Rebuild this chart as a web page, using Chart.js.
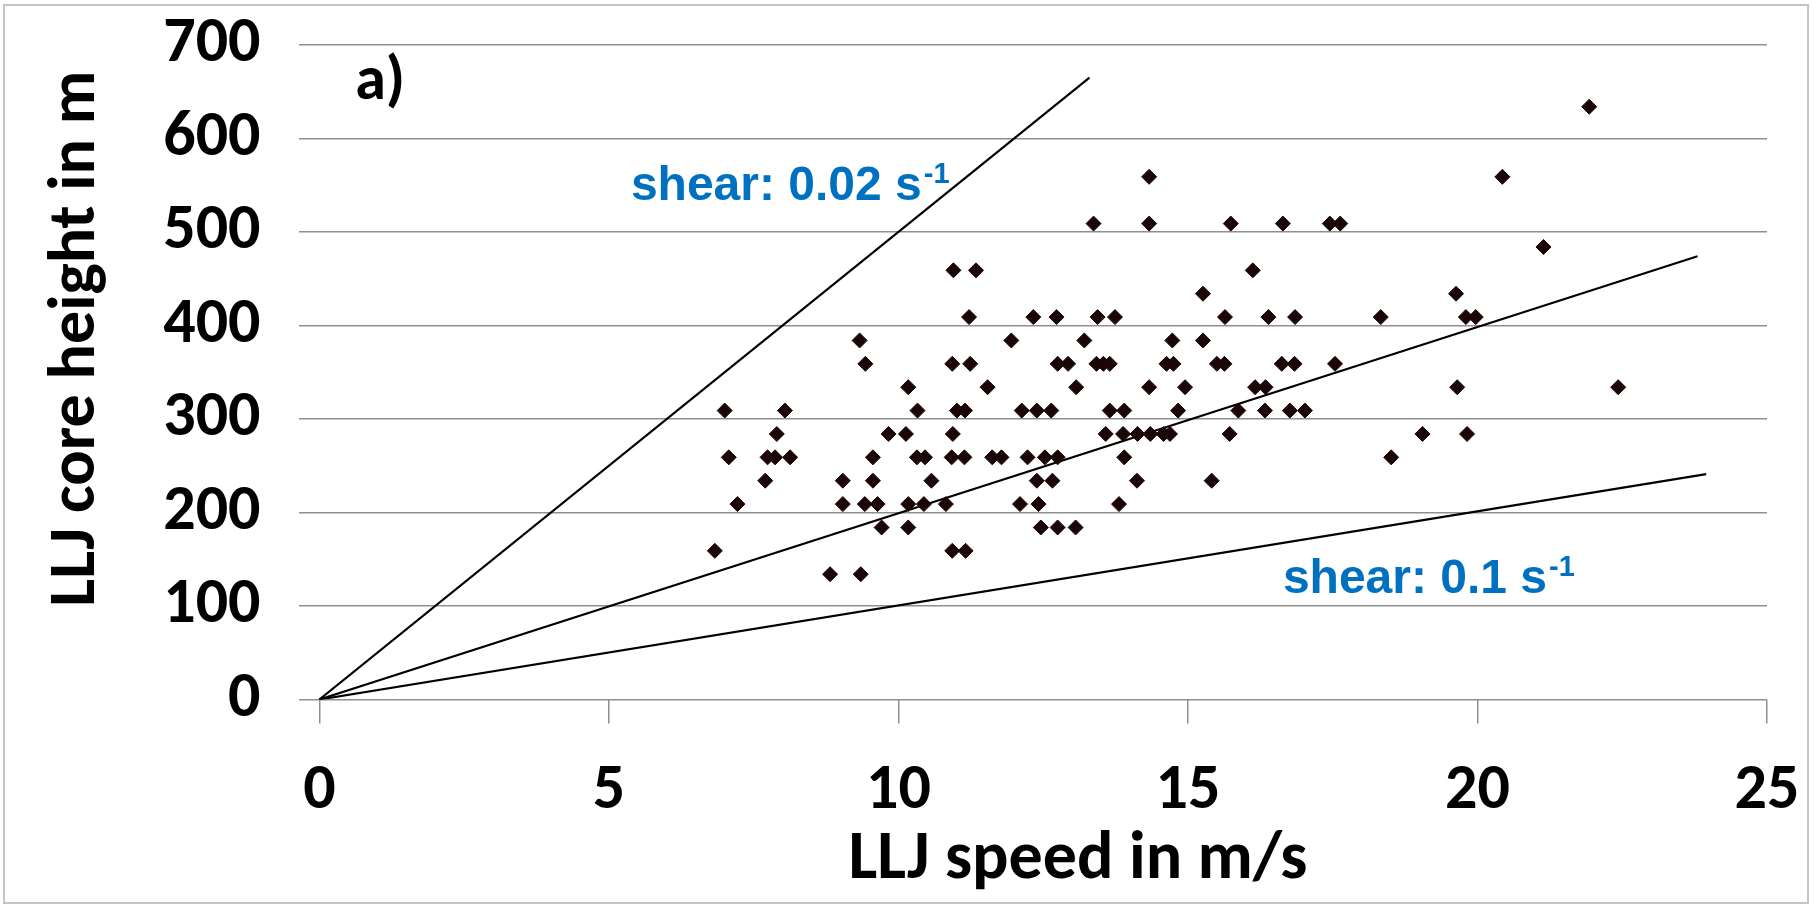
<!DOCTYPE html>
<html>
<head>
<meta charset="utf-8">
<script src="https://cdn.jsdelivr.net/npm/chart.js@4"></script>
<style>
  html, body { margin: 0; padding: 0; background: #fff; }
</style>
</head>
<body>
<canvas id="lljChart" width="1814" height="908"></canvas>
<script>
// LLJ events: speed (m/s) and core height (m)
const lljSpeed = [
  21.93,
  14.33, 20.43,
  13.37, 14.33, 15.74, 16.64, 17.45, 17.63,
  21.14,
  10.95, 11.34, 16.12,
  15.26, 19.63,
  11.22, 12.33, 12.73, 13.44, 13.74, 15.64, 16.39, 16.85, 18.33, 19.80, 19.97,
  9.33, 11.95, 13.21, 14.73, 15.26,
  9.43, 10.93, 11.24, 12.75, 12.93, 13.42, 13.54, 13.65, 14.63, 14.75, 15.50, 15.63, 16.62, 16.84, 17.54,
  10.17, 11.54, 13.07, 14.33, 14.95, 16.16, 16.34, 19.65, 22.43,
  7.00, 8.04, 10.33, 11.01, 11.15, 12.13, 12.39, 12.64, 13.65, 13.90, 14.83, 15.87, 16.33, 16.76, 17.02,
  7.90, 9.83, 10.13, 10.94, 13.58, 13.88, 14.13, 14.35, 14.58, 14.69, 15.72, 19.05, 19.82,
  7.07, 7.74, 7.87, 8.13, 9.56, 10.32, 10.46, 10.92, 11.14, 11.62, 11.78, 12.23, 12.53, 12.75, 13.90, 18.51,
  7.70, 9.04, 9.56, 10.57, 12.39, 12.66, 14.12, 15.41,
  7.22, 9.04, 9.42, 9.64, 10.17, 10.44, 10.82, 12.10, 12.42, 13.81,
  9.71, 10.17, 12.46, 12.75, 13.06,
  6.83, 10.93, 11.16,
  8.82, 9.35
];
const lljHeight = [
  634,
  559, 559,
  509, 509, 509, 509, 509, 509,
  484,
  459, 459, 459,
  434, 434,
  409, 409, 409, 409, 409, 409, 409, 409, 409, 409, 409,
  384, 384, 384, 384, 384,
  359, 359, 359, 359, 359, 359, 359, 359, 359, 359, 359, 359, 359, 359, 359,
  334, 334, 334, 334, 334, 334, 334, 334, 334,
  309, 309, 309, 309, 309, 309, 309, 309, 309, 309, 309, 309, 309, 309, 309,
  284, 284, 284, 284, 284, 284, 284, 284, 284, 284, 284, 284, 284,
  259, 259, 259, 259, 259, 259, 259, 259, 259, 259, 259, 259, 259, 259, 259, 259,
  234, 234, 234, 234, 234, 234, 234, 234,
  209, 209, 209, 209, 209, 209, 209, 209, 209, 209,
  184, 184, 184, 184, 184,
  159, 159, 159,
  134, 134
];

// shear reference lines from the origin (start, end)
const shear002X = [0, 13.3];
const shear002Y = [0, 665];
const shear005X = [0, 23.8];
const shear005Y = [0, 474];
const shear01X = [0, 23.95];
const shear01Y = [0, 241];

const xTicks = [0, 5, 10, 15, 20, 25];
const yTicks = [0, 100, 200, 300, 400, 500, 600, 700];

const CAL = "Carlito, 'Liberation Sans', sans-serif";
const BLUE = '#0070C0';

function toPoints(xs, ys) {
  return xs.map((x, i) => ({ x: x, y: ys[i] }));
}

function lineSet(xs, ys) {
  return {
    data: toPoints(xs, ys),
    showLine: true,
    borderColor: '#000',
    borderWidth: 2.2,
    pointRadius: 0,
    fill: false,
  };
}

// text inside the figure: "a)", the shear notes, both axis titles, and the outer frame
const extras = {
  id: 'extras',
  beforeDraw(chart) {
    const c = chart.ctx;
    c.save();
    c.fillStyle = '#fff';
    c.fillRect(0, 0, chart.width, chart.height);
    c.strokeStyle = '#c4c4c4';
    c.lineWidth = 2;
    c.strokeRect(4, 5, 1804, 898);
    c.restore();
  },
  afterDraw(chart) {
    const c = chart.ctx;
    const xs = chart.scales.x, ys = chart.scales.y;
    c.save();
    c.textBaseline = 'alphabetic';
    c.textAlign = 'left';

    c.fillStyle = '#000';
    c.font = 'bold 62px ' + CAL;
    c.fillText('a)', xs.getPixelForValue(0.62), ys.getPixelForValue(642));

    const note = (txt, xv, yv) => {
      const px = xs.getPixelForValue(xv), py = ys.getPixelForValue(yv);
      c.fillStyle = BLUE;
      c.font = "bold 48px 'Liberation Sans', Arial, sans-serif";
      c.fillText(txt, px, py);
      const w = c.measureText(txt).width;
      c.font = "bold 29px 'Liberation Sans', Arial, sans-serif";
      c.fillText('-1', px + w + 2, py - 17);
    };
    note('shear: 0.02 s', 5.38, 534);
    note('shear: 0.1 s', 16.64, 114);

    // x axis title (sits a bit right of the plot centre in the original)
    c.fillStyle = '#000';
    c.textAlign = 'center';
    c.font = 'bold 68px ' + CAL;
    c.fillText('LLJ speed in m/s', xs.getPixelForValue(13.1), 878);

    // y axis title, rotated
    c.font = 'bold 66px ' + CAL;
    c.translate(94, ys.getPixelForValue(386));
    c.rotate(-Math.PI / 2);
    c.fillText('LLJ core height in m', 0, 0);
    c.restore();
  }
};

const ctx = document.getElementById('lljChart').getContext('2d');
const lljChart = new Chart(ctx, {
  type: 'scatter',
  data: {
    datasets: [
      {
        data: toPoints(lljSpeed, lljHeight),
        pointStyle: 'rectRot',
        pointRadius: 7.5,
        backgroundColor: '#1a0606',
        borderColor: '#1a0606',
        borderWidth: 1,
      },
      lineSet(shear002X, shear002Y),
      lineSet(shear005X, shear005Y),
      lineSet(shear01X, shear01Y),
    ],
  },
  options: {
    responsive: false,
    animation: false,
    devicePixelRatio: 1,
    layout: { padding: { top: 45, right: 47, left: 0, bottom: 0 } },
    plugins: {
      legend: { display: false },
      tooltip: { enabled: false },
    },
    scales: {
      x: {
        type: 'linear',
        min: -0.36,
        max: 25,
        afterBuildTicks: (scale) => { scale.ticks = xTicks.map((v) => ({ value: v })); },
        afterFit: (scale) => {
          scale.height = 208.5;
          scale.paddingLeft = 0;
          scale.paddingRight = 0;
        },
        border: { display: false },
        grid: {
          drawOnChartArea: false,
          drawTicks: true,
          tickLength: 24,
          color: '#8f8f8f',
          lineWidth: 1.5,
        },
        ticks: {
          autoSkip: false,
          maxRotation: 0,
          padding: 30,
          color: '#000',
          font: { family: CAL, size: 64, weight: 'bold' },
        },
      },
      y: {
        min: 0,
        max: 700,
        afterBuildTicks: (scale) => { scale.ticks = yTicks.map((v) => ({ value: v })); },
        afterFit: (scale) => {
          scale.width = 298.5;
          scale.paddingTop = 0;
          scale.paddingBottom = 0;
        },
        border: { display: false },
        grid: {
          drawTicks: false,
          color: '#8f8f8f',
          lineWidth: 1.5,
        },
        ticks: {
          padding: 38,
          color: '#000',
          font: { family: CAL, size: 64, weight: 'bold' },
        },
      },
    },
  },
  plugins: [extras],
});
</script>
</body>
</html>
